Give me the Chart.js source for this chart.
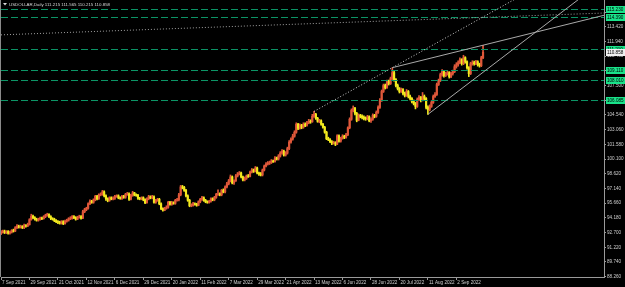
<!DOCTYPE html>
<html>
<head>
<meta charset="utf-8">
<script src="https://cdn.jsdelivr.net/npm/chart.js@4"></script>
<style>
  html, body { margin: 0; padding: 0; background: #000; }
  #wrap { width: 625px; height: 287px; }
</style>
</head>
<body>
<div id="wrap"><canvas id="chart"></canvas></div>
<script>
// daily closes, one row per label interval (16 bars)
const closes = [
  92.75, 92.85, 92.70, 92.80, 92.65, 92.75, 92.90, 92.85, 93.20, 93.35, 93.25, 93.30, 93.20, 93.40, 93.35, 93.50,
  94.00, 94.35, 94.20, 94.05, 93.95, 94.05, 94.15, 94.10, 94.30, 94.45, 94.55, 94.30, 94.10, 94.05, 93.90, 93.80,
  93.75, 93.65, 93.80, 93.60, 93.85, 93.95, 94.10, 94.15, 94.30, 94.20, 94.05, 94.25, 94.30, 94.15, 94.80, 95.00,
  95.15, 95.60, 95.85, 95.75, 96.00, 96.35, 96.10, 96.50, 96.55, 96.80, 96.40, 96.10, 95.95, 96.20, 96.10, 96.15,
  96.35, 96.40, 96.20, 96.15, 96.35, 96.25, 96.55, 96.60, 96.05, 96.45, 96.70, 96.50, 96.45, 96.15, 96.10, 96.20,
  96.00, 95.70, 96.10, 96.30, 96.20, 96.30, 95.75, 95.95, 96.05, 95.60, 95.10, 94.95, 95.15, 95.25, 95.75, 95.55,
  95.70, 95.65, 95.95, 96.00, 96.50, 97.30, 97.25, 96.95, 96.40, 95.95, 95.40, 95.45, 95.60, 95.55, 95.45, 95.80,
  96.05, 96.20, 95.95, 95.80, 95.75, 95.85, 96.10, 96.00, 96.25, 96.55, 96.60, 96.50, 96.95, 96.80, 97.30, 97.60,
  97.90, 98.30, 97.70, 97.90, 98.40, 98.60, 98.70, 98.30, 98.00, 98.15, 98.40, 98.35, 98.80, 99.00, 98.85, 99.20,
  98.70, 98.60, 98.50, 99.00, 99.40, 99.60, 99.70, 99.75, 99.90, 99.85, 100.20, 100.10, 100.40, 100.70, 100.90, 100.50,
  100.70, 101.15, 101.80, 102.10, 102.40, 102.80, 103.60, 103.20, 103.50, 103.30, 103.60, 103.50, 103.75, 103.90, 103.85, 104.40,
  104.60, 104.20, 103.90, 103.95, 103.60, 103.30, 102.80, 102.15, 102.05, 101.85, 101.70, 101.75, 101.60, 102.45, 101.90, 102.20,
  102.40, 102.30, 102.55, 103.25, 104.10, 105.00, 105.20, 104.70, 104.00, 104.50, 104.40, 104.30, 104.20, 104.15, 104.35, 103.95,
  104.10, 104.50, 104.40, 104.80, 105.30, 106.00, 106.90, 107.50, 107.30, 107.90, 107.70, 108.20, 108.80, 108.10, 107.50, 107.20,
  106.90, 107.10, 106.70, 106.50, 106.90, 106.40, 106.20, 105.90, 105.70, 105.40, 106.10, 106.30, 106.00, 106.40, 106.20, 105.30,
  105.10, 105.40, 105.80, 106.40, 106.60, 107.60, 108.00, 108.60, 108.90, 108.50, 108.70, 108.80, 108.40, 108.70, 108.90, 109.40,
  109.60, 109.80, 110.10, 109.70, 110.30, 109.90, 109.30, 108.70, 109.70, 109.80, 109.70, 109.90, 109.60, 109.50, 110.30, 110.86
];
const highs = [
  92.90, 92.95, 92.95, 92.90, 92.90, 92.85, 93.00, 93.05, 93.30, 93.50, 93.45, 93.45, 93.40, 93.55, 93.50, 93.65,
  94.10, 94.55, 94.45, 94.30, 94.15, 94.15, 94.25, 94.25, 94.40, 94.55, 94.65, 94.60, 94.40, 94.20, 94.15, 94.00,
  93.90, 93.85, 93.90, 93.90, 93.95, 94.05, 94.20, 94.30, 94.40, 94.40, 94.30, 94.35, 94.45, 94.40, 94.95, 95.15,
  95.25, 95.70, 96.00, 95.95, 96.10, 96.45, 96.45, 96.60, 96.70, 96.95, 96.90, 96.50, 96.20, 96.30, 96.30, 96.30,
  96.45, 96.50, 96.50, 96.30, 96.45, 96.45, 96.65, 96.75, 96.70, 96.55, 96.85, 96.75, 96.60, 96.55, 96.25, 96.30,
  96.30, 96.10, 96.20, 96.45, 96.40, 96.45, 96.40, 96.05, 96.15, 96.15, 95.70, 95.20, 95.25, 95.40, 95.85, 95.85,
  95.85, 95.80, 96.05, 96.15, 96.65, 97.45, 97.45, 97.35, 97.05, 96.50, 96.05, 95.60, 95.75, 95.70, 95.65, 95.90,
  96.15, 96.35, 96.30, 96.05, 95.90, 95.95, 96.20, 96.20, 96.35, 96.65, 97.00, 96.70, 97.05, 97.10, 97.40, 97.75,
  98.05, 98.50, 98.40, 98.00, 98.55, 98.75, 98.85, 98.80, 98.40, 98.30, 98.50, 98.55, 98.90, 99.15, 99.10, 99.35,
  99.30, 98.80, 98.75, 99.10, 99.50, 99.75, 99.85, 99.90, 100.05, 100.00, 100.35, 100.30, 100.55, 100.85, 101.05, 101.00,
  100.85, 101.30, 101.95, 102.25, 102.60, 102.95, 103.75, 103.70, 103.65, 103.60, 103.75, 103.75, 103.90, 104.10, 104.05, 104.60,
  104.90, 104.70, 104.30, 104.10, 104.05, 103.70, 103.40, 102.90, 102.30, 102.15, 101.95, 101.90, 101.85, 102.55, 102.55, 102.30,
  102.55, 102.50, 102.70, 103.35, 104.25, 105.15, 105.45, 105.30, 104.80, 104.65, 104.60, 104.55, 104.45, 104.35, 104.50, 104.45,
  104.25, 104.65, 104.60, 104.95, 105.45, 106.20, 107.05, 107.65, 107.65, 108.05, 108.05, 108.35, 109.30, 108.95, 108.20, 107.65,
  107.30, 107.25, 107.20, 106.85, 107.10, 107.00, 106.55, 106.30, 106.05, 105.80, 106.25, 106.50, 106.40, 106.80, 106.55, 106.30,
  105.45, 105.55, 105.95, 106.55, 106.80, 107.75, 108.15, 108.75, 109.10, 109.00, 108.85, 108.95, 108.90, 108.85, 109.05, 109.60,
  109.80, 110.00, 110.30, 110.20, 110.55, 110.40, 110.00, 109.40, 109.85, 110.00, 109.95, 110.05, 110.00, 109.75, 110.45, 111.56
];
const lows = [
  92.50, 92.65, 92.60, 92.60, 92.55, 92.55, 92.65, 92.75, 92.80, 93.10, 93.15, 93.15, 93.10, 93.10, 93.25, 93.30,
  93.45, 93.95, 94.10, 93.95, 93.85, 93.85, 93.95, 94.00, 94.05, 94.20, 94.35, 94.20, 94.00, 93.95, 93.80, 93.70,
  93.60, 93.55, 93.55, 93.50, 93.55, 93.75, 93.85, 94.00, 94.05, 94.10, 93.95, 94.00, 94.15, 94.05, 94.10, 94.70,
  94.90, 95.05, 95.50, 95.65, 95.65, 95.90, 96.00, 96.05, 96.40, 96.45, 96.30, 95.95, 95.80, 95.85, 96.00, 96.00,
  96.05, 96.25, 96.10, 96.05, 96.05, 96.15, 96.15, 96.45, 95.95, 96.00, 96.35, 96.40, 96.35, 96.05, 96.00, 96.00,
  95.90, 95.60, 95.65, 96.00, 96.10, 96.10, 95.65, 95.65, 95.85, 95.50, 95.00, 94.85, 94.90, 95.05, 95.15, 95.45,
  95.45, 95.55, 95.55, 95.85, 95.90, 96.40, 97.10, 96.85, 96.30, 95.85, 95.30, 95.30, 95.35, 95.45, 95.35, 95.40,
  95.70, 95.95, 95.85, 95.70, 95.65, 95.65, 95.75, 95.90, 95.90, 96.15, 96.45, 96.40, 96.40, 96.70, 96.70, 97.20,
  97.50, 97.80, 97.60, 97.55, 97.85, 98.30, 98.50, 98.20, 97.90, 97.90, 98.05, 98.25, 98.30, 98.70, 98.75, 98.80,
  98.60, 98.45, 98.40, 98.40, 98.90, 99.30, 99.50, 99.55, 99.65, 99.75, 99.80, 100.00, 100.00, 100.30, 100.60, 100.40,
  100.40, 100.60, 101.05, 101.70, 102.00, 102.30, 102.70, 103.05, 103.10, 103.15, 103.20, 103.35, 103.40, 103.65, 103.70, 103.80,
  104.30, 104.10, 103.80, 103.75, 103.50, 103.20, 102.70, 102.05, 101.95, 101.75, 101.55, 101.60, 101.45, 101.55, 101.80, 101.80,
  102.10, 102.15, 102.20, 102.45, 103.15, 104.00, 104.85, 104.55, 103.85, 103.95, 104.25, 104.15, 104.05, 104.00, 104.05, 103.85,
  103.80, 104.00, 104.25, 104.30, 104.70, 105.20, 105.90, 106.80, 107.15, 107.20, 107.55, 107.60, 108.10, 107.95, 107.35, 107.05,
  106.75, 106.80, 106.55, 106.35, 106.40, 106.25, 106.05, 105.75, 105.55, 105.15, 105.30, 106.00, 105.85, 105.95, 106.05, 105.15,
  104.60, 104.95, 105.30, 105.70, 106.30, 106.50, 107.50, 107.90, 108.45, 108.35, 108.40, 108.55, 108.25, 108.30, 108.55, 108.80,
  109.25, 109.45, 109.70, 109.55, 109.60, 109.75, 109.15, 108.40, 108.60, 109.55, 109.55, 109.60, 109.45, 109.35, 109.40, 110.20
];
const firstOpen = 92.60;
const opens = closes.map((c, i) => i === 0 ? firstOpen : closes[i - 1]);

const dateLabels = ["7 Sep 2021", "29 Sep 2021", "21 Oct 2021", "12 Nov 2021", "6 Dec 2021", "29 Dec 2021",
  "20 Jan 2022", "11 Feb 2022", "7 Mar 2022", "29 Mar 2022", "21 Apr 2022", "13 May 2022", "6 Jun 2022",
  "28 Jun 2022", "20 Jul 2022", "11 Aug 2022", "2 Sep 2022"];
const labelStep = 16;
const totalSlots = 340; // bars + empty space on the right

const priceTicks = [88.26, 89.74, 91.22, 92.70, 94.18, 95.66, 97.14, 98.62, 100.10, 101.58, 103.06,
  104.54, 106.02, 107.50, 108.98, 110.46, 111.94, 113.42, 114.90];
const levels = [115.230, 114.390, 111.210, 109.110, 108.010, 106.085];
const lastPrice = 110.858;
const header = "USDOLLAR,Daily 111.215 111.565 110.215 110.858";

// trend lines as [bar index, price] pairs, extended to the right
const trendLines = [
  { from: [176, 104.90], to: [220, 109.30], dash: [1, 2], color: '#cfcfcf' },
  { from: [220, 109.30], to: [271, 111.56], dash: [], color: '#a9a9a9' },
  { from: [240, 104.60], to: [281, 110.20], dash: [], color: '#a9a9a9' },
  { from: [0, 112.60], to: [339, 114.80], dash: [1, 2], color: '#a0a0a0' }
];

const bullColor = '#e0583a';
const bearColor = '#f2ea1e';
const font = 'Liberation Sans';

const xLabels = [];
for (let i = 0; i < totalSlots; i++) {
  xLabels.push(i % labelStep === 0 && dateLabels[i / labelStep] ? dateLabels[i / labelStep] : '');
}
const candleColors = closes.map((c, i) => c >= opens[i] ? bullColor : bearColor);

const overlay = {
  id: 'overlay',
  afterDatasetsDraw(chart) {
    const { ctx, chartArea: a, scales: { x, y } } = chart;
    ctx.save();
    ctx.beginPath();
    ctx.rect(a.left, a.top, a.right - a.left, a.bottom - a.top);
    ctx.clip();
    ctx.lineWidth = 1;
    ctx.strokeStyle = '#0c9466';
    ctx.setLineDash([7, 3]);
    levels.forEach(v => {
      const py = Math.round(y.getPixelForValue(v)) + 0.5;
      ctx.beginPath();
      ctx.moveTo(a.left, py);
      ctx.lineTo(a.right, py);
      ctx.stroke();
    });
    trendLines.forEach(t => {
      const x1 = x.getPixelForValue(t.from[0]), y1 = y.getPixelForValue(t.from[1]);
      const x2 = x.getPixelForValue(t.to[0]), y2 = y.getPixelForValue(t.to[1]);
      const k = (y2 - y1) / (x2 - x1);
      const xe = a.right + 10;
      ctx.strokeStyle = t.color;
      ctx.setLineDash(t.dash);
      ctx.beginPath();
      ctx.moveTo(x1, y1);
      ctx.lineTo(xe, y1 + k * (xe - x1));
      ctx.stroke();
    });
    ctx.restore();
  },
  afterDraw(chart) {
    const { ctx, chartArea: a, scales: { y } } = chart;
    ctx.save();
    ctx.font = '4.6px "' + font + '"';
    ctx.textBaseline = 'middle';
    ctx.textAlign = 'left';
    // level tags on the price scale
    levels.forEach(v => {
      const py = Math.round(y.getPixelForValue(v));
      ctx.fillStyle = '#19e38a';
      ctx.fillRect(a.right + 2, py - 3, 19, 7);
      ctx.fillStyle = '#000';
      ctx.fillText(v.toFixed(3), a.right + 3, py + 0.5);
    });
    const lp = Math.round(y.getPixelForValue(lastPrice));
    ctx.fillStyle = '#f0f0f0';
    ctx.fillRect(a.right + 2, lp - 3, 19, 7);
    ctx.fillStyle = '#000';
    ctx.fillText(lastPrice.toFixed(3), a.right + 3, lp + 0.5);
    // header
    ctx.fillStyle = '#d8d8d8';
    ctx.beginPath();
    ctx.moveTo(3, 3); ctx.lineTo(7, 3); ctx.lineTo(5, 5.5); ctx.closePath(); ctx.fill();
    ctx.font = '4.4px "' + font + '"';
    ctx.fillText(header, 9, 4.5);
    // left border
    ctx.strokeStyle = '#8a8a8a';
    ctx.beginPath();
    ctx.moveTo(0.5, 0); ctx.lineTo(0.5, a.bottom);
    ctx.stroke();
    ctx.restore();
  }
};

new Chart(document.getElementById('chart'), {
  type: 'bar',
  data: {
    labels: xLabels,
    datasets: [
      {
        label: 'wick',
        data: lows.map((l, i) => [l, highs[i]]),
        backgroundColor: candleColors,
        barThickness: 1,
        grouped: false
      },
      {
        label: 'body',
        data: closes.map((c, i) => [opens[i], c]),
        backgroundColor: candleColors,
        barThickness: 1.5,
        grouped: false
      }
    ]
  },
  options: {
    responsive: true,
    maintainAspectRatio: false,
    animation: false,
    layout: { padding: { left: 1, top: 0, right: 0, bottom: 0 } },
    plugins: { legend: { display: false }, tooltip: { enabled: false } },
    scales: {
      x: {
        offset: false,
        grid: {
          offset: false,
          drawOnChartArea: false,
          tickLength: 3,
          color: ctx => (ctx.tick && ctx.tick.label) ? '#9a9a9a' : 'rgba(0,0,0,0)'
        },
        border: { color: '#9a9a9a' },
        ticks: {
          autoSkip: false,
          maxRotation: 0,
          minRotation: 0,
          align: 'start',
          labelOffset: 1,
          padding: 0,
          color: '#cfcfcf',
          font: { family: font, size: 4.6 }
        },
        afterFit: s => { s.height = 10; s.paddingLeft = 0; s.paddingRight = 0; }
      },
      y: {
        position: 'right',
        min: 88.23,
        max: 116.11,
        grid: { drawOnChartArea: false, tickLength: 2, color: '#9a9a9a' },
        border: { color: '#9a9a9a' },
        afterBuildTicks: s => { s.ticks = priceTicks.map(v => ({ value: v })); },
        ticks: {
          padding: 1,
          color: '#cfcfcf',
          font: { family: font, size: 4.6 },
          callback: v => Number(v).toFixed(3)
        },
        afterFit: s => { s.width = 21; s.paddingTop = 0; s.paddingBottom = 0; }
      }
    }
  },
  plugins: [overlay]
});
</script>
</body>
</html>
